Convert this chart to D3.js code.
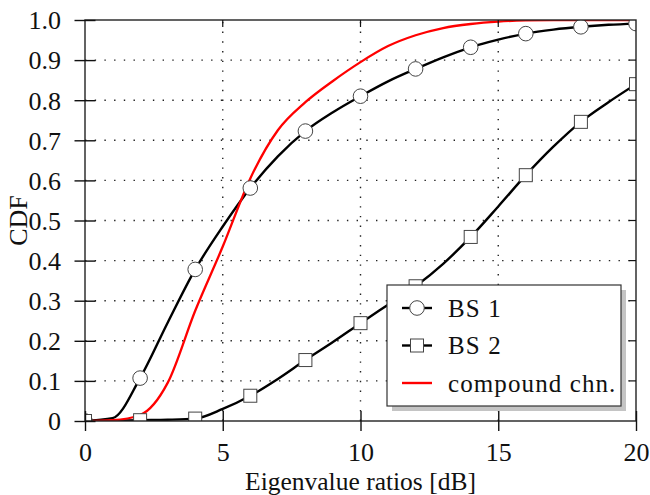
<!DOCTYPE html>
<html>
<head>
<meta charset="utf-8">
<script src="https://cdn.jsdelivr.net/npm/d3@7"></script>
<style>
  body { margin: 0; background: #fff; }
</style>
</head>
<body>
<div id="chart"></div>
<script>
// Eigenvalue ratio in dB (curves read at every 1 dB, markers every 2 dB)
const xVals = [0, 1, 2, 3, 4, 5, 6, 7, 8, 9, 10, 11, 12, 13, 14, 15, 16, 17, 18, 19, 20]
const bs1 = [0, 0.007, 0.107, 0.245, 0.378, 0.485, 0.581, 0.66, 0.723, 0.77, 0.81,
             0.847, 0.878, 0.907, 0.932, 0.951, 0.966, 0.976, 0.983, 0.988, 0.991]
const bs2 = [0, 0.0005, 0.002, 0.003, 0.006, 0.03, 0.063, 0.105, 0.152, 0.197, 0.244,
             0.29, 0.336, 0.392, 0.459, 0.535, 0.613, 0.684, 0.746, 0.795, 0.84]
const compound = [0, 0.002, 0.015, 0.095, 0.275, 0.435, 0.605, 0.725, 0.795, 0.848, 0.895,
                  0.935, 0.962, 0.98, 0.99, 0.996, 0.999, 1, 1, 1, 1]
const xTicks = [0, 5, 10, 15, 20]
const yTicks = [0, 0.1, 0.2, 0.3, 0.4, 0.5, 0.6, 0.7, 0.8, 0.9, 1.0]
const yTickLabels = ["0", "0.1", "0.2", "0.3", "0.4", "0.5", "0.6", "0.7", "0.8", "0.9", "1.0"]
const legendNames = ["BS 1", "BS 2", "compound chn."]

const width = 650, height = 495
const padLeft = 85, padRight = 636, padTop = 20, padBottom = 421
const fontName = "'Liberation Serif'"

const svg = d3.select("#chart").append("svg")
    .attr("width", width)
    .attr("height", height)

const x = d3.scaleLinear().domain([0, 20]).range([padLeft, padRight])
const y = d3.scaleLinear().domain([0, 1]).range([padBottom, padTop])

// Dotted grid
svg.append("g").selectAll("line")
    .data(yTicks.slice(1, -1))
    .enter().append("line")
    .attr("x1", padLeft).attr("x2", padRight)
    .attr("y1", d => y(d)).attr("y2", d => y(d))
    .attr("stroke", "#222").attr("stroke-width", 1.4)
    .attr("stroke-dasharray", "1.4 8.3")
svg.append("g").selectAll("line")
    .data(xTicks.slice(1, -1))
    .enter().append("line")
    .attr("x1", d => x(d)).attr("x2", d => x(d))
    .attr("y1", padBottom).attr("y2", padTop)
    .attr("stroke", "#222").attr("stroke-width", 1.4)
    .attr("stroke-dasharray", "1.4 8.3")

// Clip to plot box
svg.append("clipPath").attr("id", "clip")
    .append("rect").attr("x", padLeft).attr("y", padTop)
    .attr("width", padRight - padLeft).attr("height", padBottom - padTop)
const plot = svg.append("g").attr("clip-path", "url(#clip)")

const pts = vals => xVals.map((d, i) => [d, vals[i]])
const line = d3.line().x(d => x(d[0])).y(d => y(d[1])).curve(d3.curveMonotoneX)

plot.append("path").datum(pts(bs1)).attr("d", line)
    .attr("fill", "none").attr("stroke", "#000").attr("stroke-width", 2.4)
plot.append("path").datum(pts(bs2)).attr("d", line)
    .attr("fill", "none").attr("stroke", "#000").attr("stroke-width", 2.4)
plot.append("path").datum(pts(compound)).attr("d", line)
    .attr("fill", "none").attr("stroke", "#f00").attr("stroke-width", 2.3)

// Markers every 2 dB
const even = vals => pts(vals).filter((d, i) => i % 2 == 0)
plot.selectAll("circle.m1").data(even(bs1)).enter().append("circle")
    .attr("cx", d => x(d[0])).attr("cy", d => y(d[1])).attr("r", 7.3)
    .attr("fill", "#fff").attr("stroke", "#444").attr("stroke-width", 1)
plot.selectAll("rect.m2").data(even(bs2)).enter().append("rect")
    .attr("x", d => x(d[0]) - 6.5).attr("y", d => y(d[1]) - 6.5)
    .attr("width", 13).attr("height", 13)
    .attr("fill", "#fff").attr("stroke", "#444").attr("stroke-width", 1)

// Frame and ticks
svg.append("rect").attr("x", padLeft).attr("y", padTop)
    .attr("width", padRight - padLeft).attr("height", padBottom - padTop)
    .attr("fill", "none").attr("stroke", "#222").attr("stroke-width", 1.4)

const xAxis = d3.axisBottom(x).tickValues(xTicks).tickSize(10).tickPadding(0).tickFormat(d3.format("d"))
const yAxis = d3.axisLeft(y).tickValues(yTicks).tickSize(10.5).tickPadding(0)
    .tickFormat((d, i) => yTickLabels[i])

const gx = svg.append("g").attr("transform", "translate(0," + padBottom + ")").call(xAxis)
const gy = svg.append("g").attr("transform", "translate(" + padLeft + ",0)").call(yAxis)
;[gx, gy].forEach(g => {
    g.attr("font-family", null).attr("font-size", null)
    g.select(".domain").remove()
    g.selectAll("line").attr("stroke", "#111").attr("stroke-width", 1.4)
    g.selectAll("text").style("font-size", "26px").style("font-family", fontName).attr("fill", "#111")
})
// ticks centred on the axis line
gx.selectAll(".tick line").attr("y1", -10).attr("y2", 10)
gx.selectAll(".tick text").attr("y", 40).attr("dy", null)
gy.selectAll(".tick line").attr("x1", 10.5).attr("x2", -10.5)
gy.selectAll(".tick text").attr("x", -24).attr("dy", "0.34em")

// inner ticks on the right and top
svg.append("g").selectAll("line").data(yTicks.slice(1, -1)).enter().append("line")
    .attr("x1", padRight - 7).attr("x2", padRight).attr("y1", d => y(d)).attr("y2", d => y(d))
    .attr("stroke", "#111").attr("stroke-width", 1.2)
svg.append("g").selectAll("line").data(xTicks.slice(1, -1)).enter().append("line")
    .attr("x1", d => x(d)).attr("x2", d => x(d)).attr("y1", padTop).attr("y2", padTop + 7)
    .attr("stroke", "#111").attr("stroke-width", 1.2)

// Axis labels
svg.append("text").attr("x", (padLeft + padRight) / 2).attr("y", 489.5)
    .attr("text-anchor", "middle")
    .style("font-size", "25.5px").style("font-family", fontName).attr("fill", "#111")
    .text("Eigenvalue ratios [dB]")
svg.append("text")
    .attr("transform", "translate(27," + ((padTop + padBottom) / 2) + ") rotate(-90)")
    .attr("text-anchor", "middle")
    .style("font-size", "26px").style("font-family", fontName).attr("fill", "#111")
    .text("CDF")

// Legend
const lg = svg.append("g").attr("transform", "translate(387,285)")
lg.append("rect").attr("x", 5).attr("y", 5).attr("width", 234).attr("height", 121).attr("fill", "#c4c4c4")
lg.append("rect").attr("width", 234).attr("height", 121)
    .attr("fill", "#fff").attr("stroke", "#333").attr("stroke-width", 1.2)
const rows = lg.selectAll("g.row").data(legendNames).enter().append("g")
    .attr("transform", (d, i) => "translate(0," + (23 + i * 37.5) + ")")
rows.append("line").attr("x1", 15).attr("x2", 45)
    .attr("stroke", (d, i) => i == 2 ? "#f00" : "#000").attr("stroke-width", 2.4)
rows.filter((d, i) => i == 0).append("circle").attr("cx", 30).attr("r", 7.3)
    .attr("fill", "#fff").attr("stroke", "#444")
rows.filter((d, i) => i == 1).append("rect").attr("x", 23.5).attr("y", -6.5)
    .attr("width", 13).attr("height", 13).attr("fill", "#fff").attr("stroke", "#444")
rows.append("text").attr("x", 61).attr("y", 8.5)
    .attr("letter-spacing", "1.1px")
    .style("font-size", "25px").style("font-family", fontName).attr("fill", "#111")
    .text(d => d)
</script>
</body>
</html>
